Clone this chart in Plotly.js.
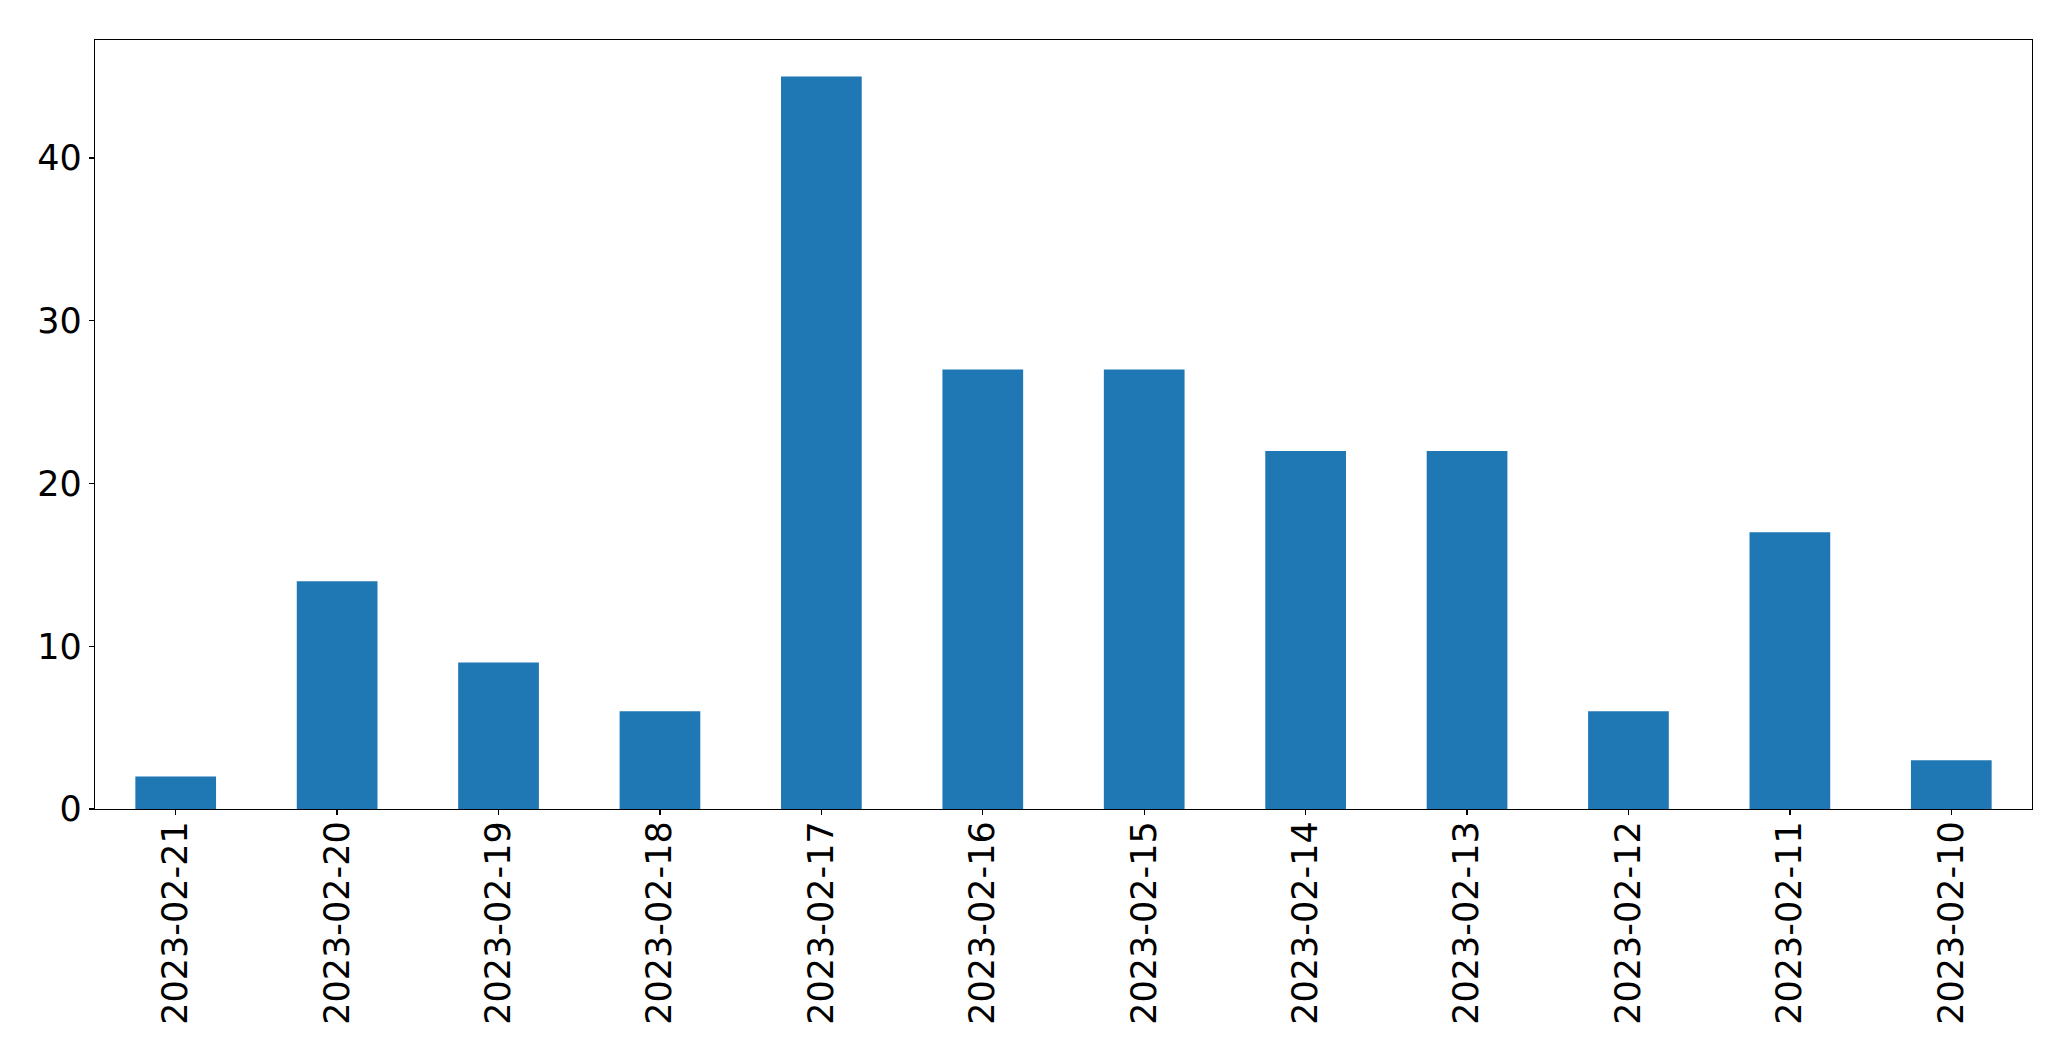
<!DOCTYPE html>
<html>
<head>
<meta charset="utf-8">
<script src="https://cdn.plot.ly/plotly-3.0.1.min.js"></script>
<style>html,body{margin:0;padding:0;background:#fff;}</style>
</head>
<body>
<div id="chart" style="width:2071px;height:1061px;"></div>
<script>
const dates = ["2023-02-21","2023-02-20","2023-02-19","2023-02-18","2023-02-17","2023-02-16","2023-02-15","2023-02-14","2023-02-13","2023-02-12","2023-02-11","2023-02-10"];
const counts = [2, 14, 9, 6, 45, 27, 27, 22, 22, 6, 17, 3];
const yTicks = [0, 10, 20, 30, 40];

const font = {family: "DejaVu Sans, sans-serif", size: 35, color: "#000"};

Plotly.newPlot("chart", [{
  type: "bar",
  x: dates,
  y: counts,
  width: 0.5,
  marker: {color: "#1f77b4", line: {width: 0}},
  hoverinfo: "x+y"
}], {
  width: 2071,
  height: 1061,
  margin: {l: 95, r: 39, t: 40, b: 252, pad: 0},
  paper_bgcolor: "#fff",
  plot_bgcolor: "#fff",
  showlegend: false,
  font: font,
  xaxis: {
    type: "category",
    range: [-0.5, dates.length - 0.5],
    tickangle: -90,
    ticks: "outside",
    ticklen: 5,
    tickwidth: 1.3,
    tickcolor: "#000",
    ticklabelstandoff: -8,
    showline: true,
    linecolor: "#000",
    linewidth: 1.3,
    mirror: true,
    showgrid: false,
    zeroline: false,
    tickfont: font,
    automargin: false
  },
  yaxis: {
    range: [0, 47.25],
    tickvals: yTicks,
    ticktext: yTicks.map(String),
    ticks: "outside",
    ticklen: 5,
    tickwidth: 1.3,
    tickcolor: "#000",
    showline: true,
    linecolor: "#000",
    linewidth: 1.3,
    mirror: true,
    showgrid: false,
    zeroline: false,
    tickfont: font,
    automargin: false
  }
}, {displayModeBar: false, staticPlot: true});
</script>
</body>
</html>
